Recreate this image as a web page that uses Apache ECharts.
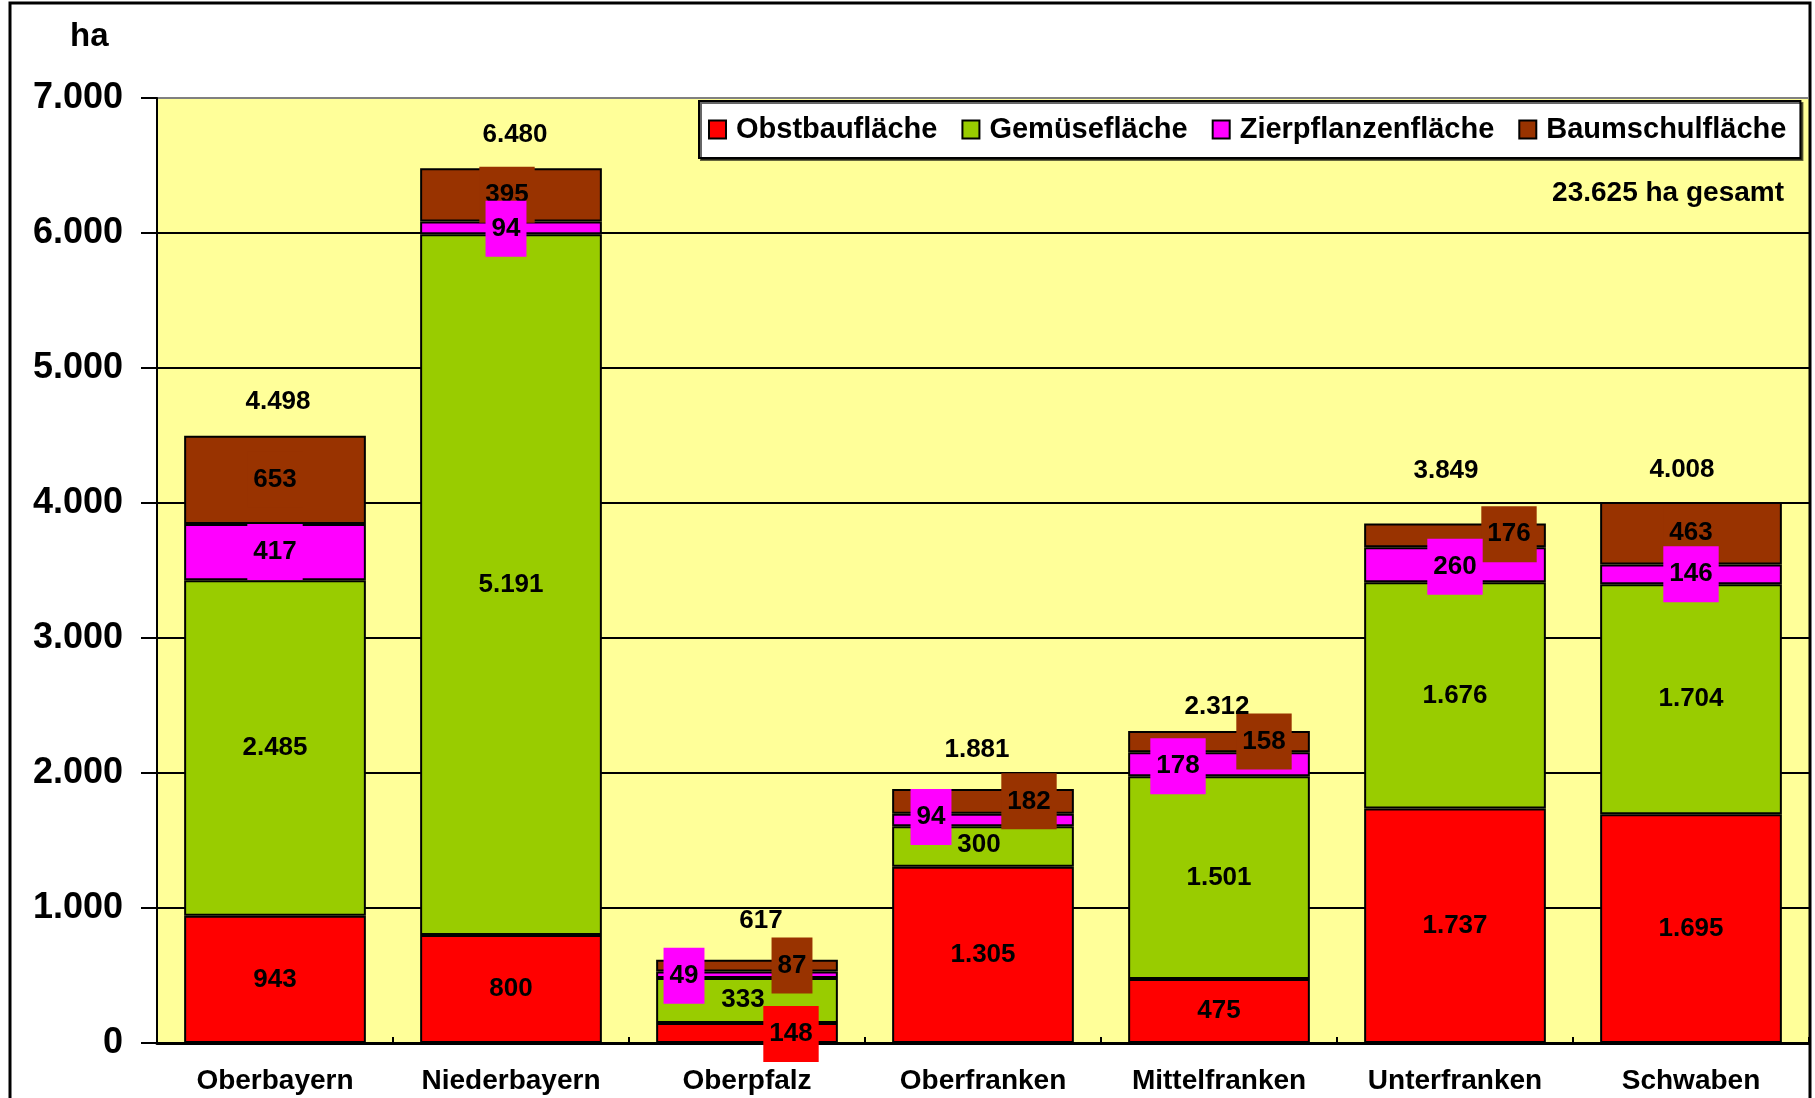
<!DOCTYPE html>
<html>
<head>
<meta charset="utf-8">
<title>Gartenbauflächen</title>
<script src="https://cdn.jsdelivr.net/npm/echarts@6/dist/echarts.min.js"></script>
<style>
    html, body { margin: 0; padding: 0; background: #fff; }
    #chart { width: 1815px; height: 1098px; }
</style>
</head>
<body>
<div id="chart"></div>
<script>
// Daten
var regionen = ['Oberbayern', 'Niederbayern', 'Oberpfalz', 'Oberfranken', 'Mittelfranken', 'Unterfranken', 'Schwaben'];
var obstbau = [943, 800, 148, 1305, 475, 1737, 1695];
var gemuese = [2485, 5191, 333, 300, 1501, 1676, 1704];
var zierpflanzen = [417, 94, 49, 94, 178, 260, 146];
var baumschule = [653, 395, 87, 182, 158, 176, 463];
var gesamt = [4498, 6480, 617, 1881, 2312, 3849, 4008];
var yTicks = [0, 1000, 2000, 3000, 4000, 5000, 6000, 7000];
var gesamtText = '23.625 ha gesamt';

// Verschiebung der Beschriftungen (wie im Original von Hand verschoben)
var shiftObst = [[0, 0], [0, 0], [44, 1], [0, 0], [0, 0], [0, 0], [0, 0]];
var shiftGemuese = [[0, 0], [0, 0], [-4, -1], [-4, -2], [0, 0], [0, 0], [0, 0]];
var shiftZier = [[0, 0], [-5, 1], [-63, 1], [-52, -3], [-41, 2], [0, 2], [0, 0]];
var shiftBaum = [[0, 0], [-4, 0], [45, 0], [46, 0], [45, 0], [54, -1], [0, 0]];
var shiftGesamt = [[3, -34], [4, -33], [14, -39], [-6, -39], [-2, -24], [-9, -53], [-9, -32]];

var FONT = 'Liberation Sans, Arial, sans-serif';
var ROT = '#FF0000', GRUEN = '#99CC00', PINK = '#FF00FF', BRAUN = '#993300';

function punkt(v) {
    return String(v).replace(/\B(?=(\d{3})+(?!\d))/g, '.');
}

function mkData(values, shifts) {
    var out = [];
    for (var i = 0; i < values.length; i++) {
        out.push({ value: values[i], label: { offset: shifts[i] } });
    }
    return out;
}

function labelStyle(box) {
    return {
        show: true,
        position: 'inside',
        color: '#000',
        fontFamily: FONT,
        fontWeight: 'bold',
        fontSize: 26,
        backgroundColor: box || 'transparent',
        padding: box ? [15, 6] : 0
    };
}

function barSerie(name, color, values, shifts, box) {
    var lab = labelStyle(box ? color : null);
    lab.formatter = function (p) { return punkt(p.value); };
    return {
        name: name,
        type: 'bar',
        stack: 'summe',
        barCategoryGap: '23%',
        data: mkData(values, shifts),
        itemStyle: { color: color, borderColor: '#000', borderWidth: 2 },
        label: lab
    };
}

// Zierpflanzen-Beschriftung liegt im Original über den Baumschul-Kästchen,
// darum als eigene Punktreihe in der Mitte des Segments
var zierMitte = [];
for (var i = 0; i < zierpflanzen.length; i++) {
    zierMitte.push(obstbau[i] + gemuese[i] + zierpflanzen[i] / 2);
}

var zierSerie = barSerie('Zierpflanzenfläche', PINK, zierpflanzen, shiftZier, false);
zierSerie.label = { show: false };

var zierLabel = labelStyle(PINK);
zierLabel.formatter = function (p) { return punkt(zierpflanzen[p.dataIndex]); };

var gesamtLabel = labelStyle(null);
gesamtLabel.formatter = function (p) { return punkt(p.value); };

var chart = echarts.init(document.getElementById('chart'));
chart.setOption({
    backgroundColor: '#fff',
    animation: false,
    grid: {
        left: 157, right: 6, top: 98, bottom: 55,
        show: true,
        backgroundColor: '#FFFF99',
        borderWidth: 0
    },
    legend: {
        data: ['Obstbaufläche', 'Gemüsefläche', 'Zierpflanzenfläche', 'Baumschulfläche'],
        left: 699,
        top: 101,
        padding: [14, 14, 14, 9],
        itemGap: 24,
        itemWidth: 17,
        itemHeight: 18,
        icon: 'rect',
        backgroundColor: '#fff',
        borderColor: '#000',
        borderWidth: 2,
        shadowColor: 'rgba(0,0,0,0.6)',
        shadowOffsetX: 2,
        shadowOffsetY: 2,
        textStyle: { color: '#000', fontFamily: FONT, fontWeight: 'bold', fontSize: 29, padding: [0, 0, 0, 5] }
    },
    xAxis: {
        type: 'category',
        data: regionen,
        axisLine: { lineStyle: { color: '#000', width: 3 } },
        axisTick: { show: true, inside: true, length: 6, lineStyle: { color: '#000', width: 2 } },
        axisLabel: { interval: 0, color: '#000', fontFamily: FONT, fontWeight: 'bold', fontSize: 28, margin: 24 }
    },
    yAxis: {
        type: 'value',
        min: yTicks[0],
        max: yTicks[yTicks.length - 1],
        interval: 1000,
        axisLine: { show: true, lineStyle: { color: '#000', width: 2 } },
        axisTick: { show: true, length: 16, lineStyle: { color: '#000', width: 2 } },
        axisLabel: {
            color: '#000', fontFamily: FONT, fontWeight: 'bold', fontSize: 36, margin: 34,
            formatter: function (v) { return punkt(v); }
        },
        splitLine: {
            show: true,
            lineStyle: { color: ['#000', '#000', '#000', '#000', '#000', '#000', '#000', '#808080'], width: 2 }
        }
    },
    series: [
        barSerie('Obstbaufläche', ROT, obstbau, shiftObst, true),
        barSerie('Gemüsefläche', GRUEN, gemuese, shiftGemuese, false),
        zierSerie,
        barSerie('Baumschulfläche', BRAUN, baumschule, shiftBaum, true),
        {
            name: 'zierBeschriftung',
            type: 'scatter',
            symbol: 'rect',
            symbolSize: 1,
            itemStyle: { color: 'rgba(0,0,0,0)', opacity: 1 },
            data: mkData(zierMitte, shiftZier),
            label: zierLabel
        },
        {
            name: 'Gesamt',
            type: 'scatter',
            symbol: 'rect',
            symbolSize: 1,
            itemStyle: { color: 'rgba(0,0,0,0)', opacity: 1 },
            data: mkData(gesamt, shiftGesamt),
            label: gesamtLabel
        }
    ],
    graphic: [
        {
            type: 'rect',
            shape: { x: 10, y: 3, width: 1800, height: 1110 },
            style: { fill: null, stroke: '#000', lineWidth: 3 },
            silent: true,
            z: 0
        },
        {
            type: 'text',
            left: 70,
            top: 20,
            style: { text: 'ha', fill: '#000', font: 'bold 33px ' + FONT }
        },
        {
            type: 'text',
            right: 31,
            top: 179,
            style: { text: gesamtText, fill: '#000', font: 'bold 28px ' + FONT }
        }
    ]
});
</script>
</body>
</html>
